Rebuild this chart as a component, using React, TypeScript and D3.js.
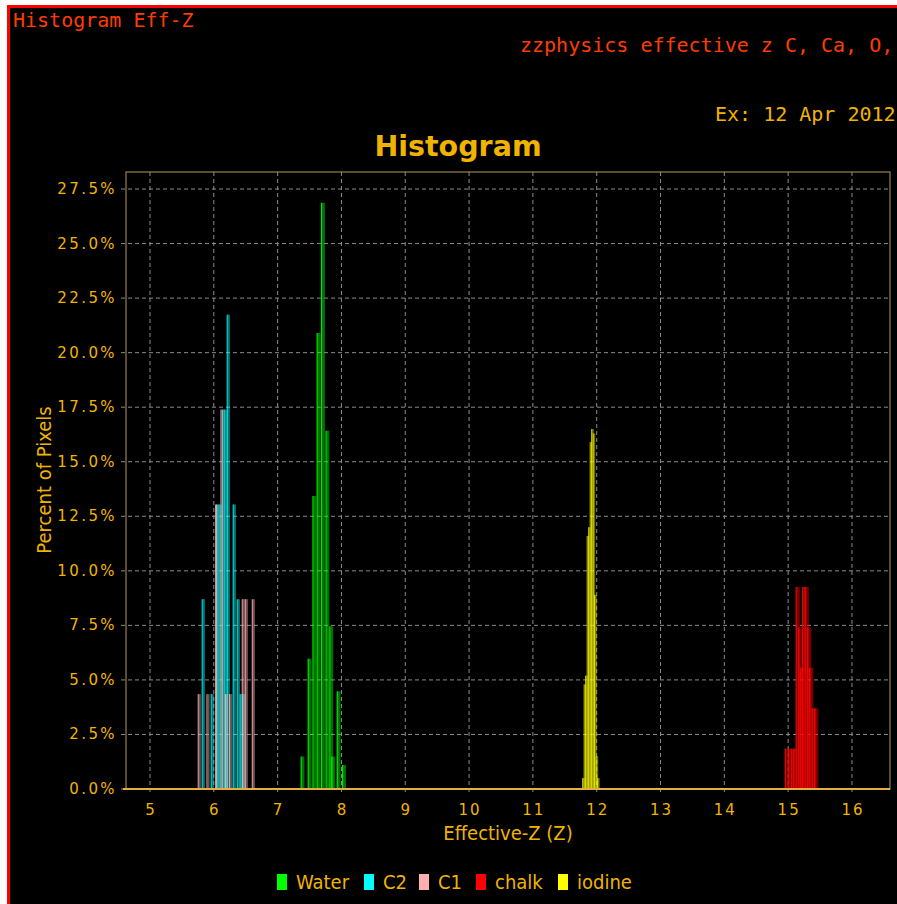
import * as d3 from "d3";

const W = 897;
const H = 904;

// Effective-Z bin centres and percent of pixels
const waterZ = [7.39, 7.5, 7.575, 7.64, 7.71, 7.78, 7.84, 7.87, 7.955, 8.04];
const waterPct = [1.49, 5.97, 13.43, 20.9, 26.87, 16.42, 7.46, 1.49, 4.48, 1.1];

const c2Z = [5.835, 5.976, 6.06, 6.1, 6.15, 6.19, 6.227, 6.321, 6.384, 6.43, 6.47];
const c2Pct = [8.7, 4.35, 13.04, 13.04, 17.39, 17.39, 21.74, 13.04, 8.7, 4.35, 4.35];

const c1Z = [5.772, 5.909, 6.045, 6.128, 6.2, 6.264, 6.462, 6.51, 6.619];
const c1Pct = [4.35, 4.35, 13.04, 17.39, 4.35, 4.35, 8.7, 8.7, 8.7];

const chalkZ = [14.98, 15.03, 15.08, 15.11, 15.15, 15.19, 15.22, 15.25, 15.29, 15.33, 15.36, 15.4, 15.44];
const chalkPct = [1.85, 1.85, 1.85, 1.85, 9.26, 7.41, 5.56, 9.26, 9.26, 7.41, 5.56, 3.7, 3.7];

const iodineZ = [11.793, 11.816, 11.84, 11.863, 11.887, 11.91, 11.934, 11.957, 11.98, 12.004, 12.027];
const iodinePct = [0.5, 4.8, 5.2, 11.6, 12.0, 15.9, 16.5, 16.3, 8.9, 1.5, 0.5];

const xTicks = [5, 6, 7, 8, 9, 10, 11, 12, 13, 14, 15, 16];
const yTicks = [0, 2.5, 5, 7.5, 10, 12.5, 15, 17.5, 20, 22.5, 25, 27.5];

const series = [
  { key: "Water", color: "#00ff00", z: waterZ, pct: waterPct, bw: 0.062 },
  { key: "C2", color: "#00ffff", z: c2Z, pct: c2Pct, bw: 0.052 },
  { key: "C1", color: "#ffafaf", z: c1Z, pct: c1Pct, bw: 0.05 },
  { key: "chalk", color: "#ff0000", z: chalkZ, pct: chalkPct, bw: 0.07 },
  { key: "iodine", color: "#ffff00", z: iodineZ, pct: iodinePct, bw: 0.04 },
];

const GOLD = "#f0b400";
const MONO = "'DejaVu Sans Mono', monospace";
const TEXT_FONT = "'DejaVu Sans Condensed', 'DejaVu Sans', sans-serif";

export default function App() {
  const plot = { left: 126, right: 890, top: 172, bottom: 789 };
  const x = d3.scaleLinear().domain([4.624, 16.596]).range([plot.left, plot.right]);
  const y = d3.scaleLinear().domain([0, 28.28]).range([plot.bottom, plot.top]);
  const fmt = d3.format(".1f");

  const legendItems = [
    { key: "Water", x: 277 },
    { key: "C2", x: 364 },
    { key: "C1", x: 419 },
    { key: "chalk", x: 476 },
    { key: "iodine", x: 558 },
  ];

  return (
    <svg
      width={W}
      height={H}
      style={{ position: "absolute", left: 0, top: 0, display: "block" }}
    >
      <defs>
        {series.map((s) => (
          <linearGradient key={s.key} id={`bar-${s.key}`} x1="0" x2="1" y1="0" y2="0">
            <stop offset="0%" stopColor={s.color} stopOpacity="0.8" />
            <stop offset="18%" stopColor={s.color} stopOpacity="0.95" />
            <stop offset="35%" stopColor={s.color} stopOpacity="0.5" />
            <stop offset="100%" stopColor={s.color} stopOpacity="0.4" />
          </linearGradient>
        ))}
        <clipPath id="plot-clip">
          <rect x={plot.left} y={plot.top} width={plot.right - plot.left} height={plot.bottom - plot.top} />
        </clipPath>
      </defs>

      {/* page + frame */}
      <rect x={0} y={0} width={W} height={H} fill="#ffffff" />
      <rect x={7} y={5} width={W} height={H} fill="#000000" />
      <rect x={7} y={5} width={W} height={3} fill="#ff0000" />
      <rect x={7} y={5} width={3} height={H} fill="#ff0000" />

      {/* header texts */}
      <text x={13} y={27} fill="#ff3c00" style={{ fontFamily: MONO, fontSize: 20 }}>
        Histogram Eff-Z
      </text>
      <text x={520} y={52} fill="#ff3c00" style={{ fontFamily: MONO, fontSize: 20 }}>
        zzphysics effective z C, Ca, O,
      </text>
      <text x={715} y={121} fill={GOLD} style={{ fontFamily: MONO, fontSize: 20 }}>
        Ex: 12 Apr 2012
      </text>
      <text
        x={458}
        y={156}
        textAnchor="middle"
        fill={GOLD}
        style={{ fontFamily: "'DejaVu Sans', sans-serif", fontSize: 28.5, fontWeight: "bold" }}
      >
        Histogram
      </text>

      {/* grid */}
      {yTicks.map((t) => (
        <line
          key={`gy${t}`}
          x1={plot.left - 5}
          x2={plot.right}
          y1={y(t)}
          y2={y(t)}
          stroke="#8c8c8c"
          strokeDasharray="4,3"
          strokeWidth={1}
        />
      ))}
      {xTicks.map((t) => (
        <line
          key={`gx${t}`}
          x1={x(t)}
          x2={x(t)}
          y1={plot.top}
          y2={plot.bottom + 5}
          stroke="#8c8c8c"
          strokeDasharray="4,3"
          strokeWidth={1}
        />
      ))}

      {/* bars */}
      <g clipPath="url(#plot-clip)">
        {series.map((s) =>
          s.z.map((z, i) => {
            const x0 = x(z - s.bw / 2);
            const x1 = x(z + s.bw / 2);
            return (
              <rect
                key={`${s.key}-${i}`}
                x={x0}
                y={y(s.pct[i])}
                width={x1 - x0}
                height={y(0) - y(s.pct[i])}
                fill={`url(#bar-${s.key})`}
              />
            );
          })
        )}
      </g>

      {/* plot outline and x axis line */}
      <rect
        x={plot.left}
        y={plot.top}
        width={plot.right - plot.left}
        height={plot.bottom - plot.top}
        fill="none"
        stroke="#b89a55"
        strokeWidth={1}
      />
      <line x1={plot.left - 3} x2={plot.right} y1={plot.bottom} y2={plot.bottom} stroke="#e0b040" strokeWidth={2} />

      {/* tick labels */}
      {yTicks.map((t) => (
        <text
          key={`ly${t}`}
          x={117}
          y={y(t) + 5}
          textAnchor="end"
          fill={GOLD}
          style={{ fontFamily: "'DejaVu Sans', sans-serif", fontSize: 15, letterSpacing: 2.4 }}
        >
          {fmt(t)}%
        </text>
      ))}
      {xTicks.map((t) => (
        <text
          key={`lx${t}`}
          x={x(t) + 1}
          y={815}
          textAnchor="middle"
          fill={GOLD}
          style={{ fontFamily: "'DejaVu Sans', sans-serif", fontSize: 15, letterSpacing: 2 }}
        >
          {t}
        </text>
      ))}

      {/* axis titles */}
      <text
        x={(plot.left + plot.right) / 2}
        y={840}
        textAnchor="middle"
        fill={GOLD}
        style={{ fontFamily: TEXT_FONT, fontSize: 20 }}
      >
        Effective-Z (Z)
      </text>
      <text
        transform="translate(51,480) rotate(-90)"
        textAnchor="middle"
        fill={GOLD}
        style={{ fontFamily: TEXT_FONT, fontSize: 20 }}
      >
        Percent of Pixels
      </text>

      {/* legend */}
      {legendItems.map((item) => {
        const s = series.find((d) => d.key === item.key)!;
        return (
          <g key={item.key}>
            <rect x={item.x} y={874} width={10} height={16} fill={s.color} />
            <text x={item.x + 19} y={889} fill={GOLD} style={{ fontFamily: TEXT_FONT, fontSize: 20 }}>
              {item.key}
            </text>
          </g>
        );
      })}
    </svg>
  );
}
